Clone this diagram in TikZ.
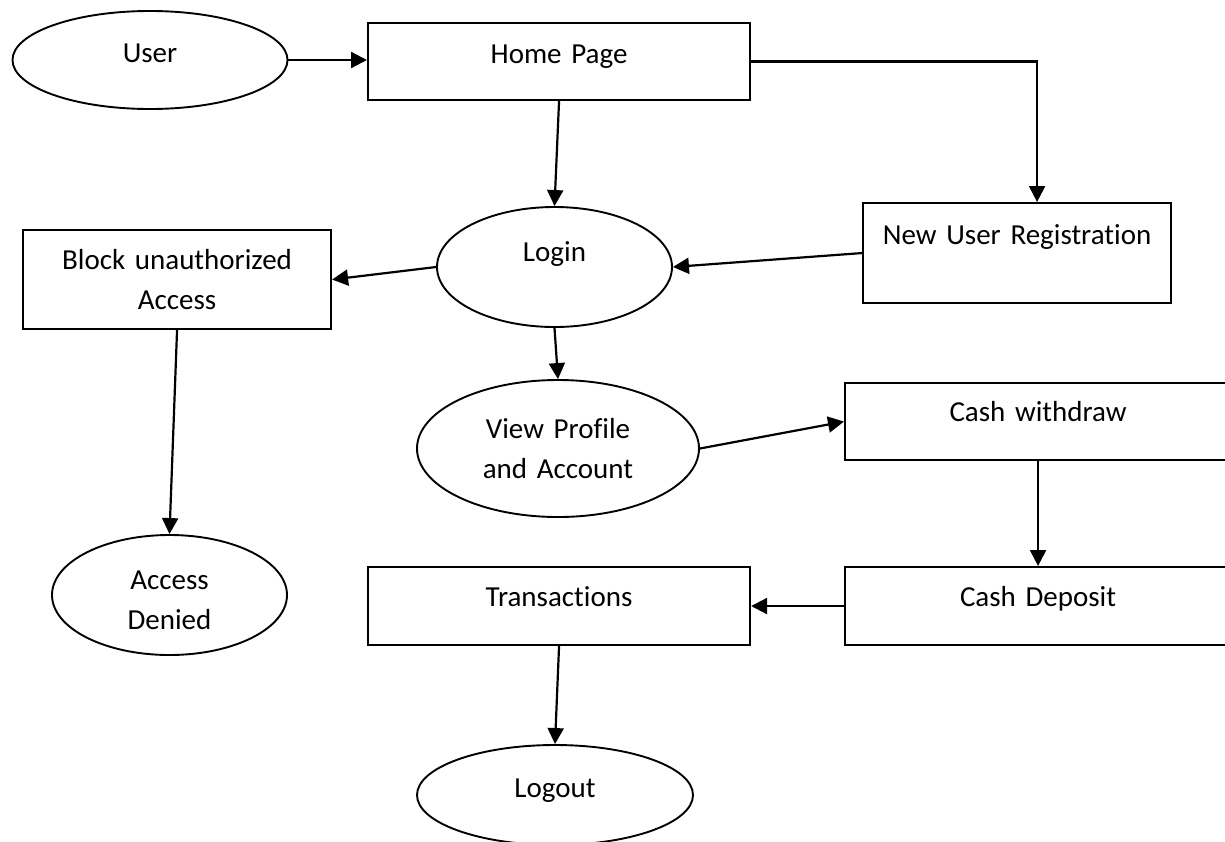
\documentclass[tikz,border=0pt]{standalone}
\usepackage{fontspec}
\setmainfont[Ligatures=NoCommon]{Carlito}
\usetikzlibrary{arrows.meta,shapes.geometric}

\begin{document}
% tighter interword space for the 29pt labels
\spaceskip=6.7pt\relax
\begin{tikzpicture}[x=1pt,y=-1pt,
  font=\fontsize{29}{40}\selectfont,
  box/.style={draw,line width=2.1pt,rectangle,inner sep=0pt,anchor=north west,align=center},
  oval/.style={draw,line width=1.9pt,ellipse,inner sep=0pt,align=center,text width=150pt},
  flow/.style={line width=2.2pt,-{Triangle[length=16pt,width=16pt]}}
]
\path[use as bounding box,fill=white] (0,0) rectangle (1225,841);

% process boxes (text sits near the top edge)
\node[box,text width=382pt,text height=40pt,text depth=37pt] (home)  at (367,22)  {Home Page};
\node[box,text width=308pt,text height=41pt,text depth=59pt] (nur)   at (862,202) {New User Registration};
\node[box,text width=308pt,text height=39pt,text depth=60pt] (block) at (22,229)  {Block unauthorized\\Access};
\node[box,text width=386pt,text height=38pt,text depth=39pt] (cw)    at (844,382) {Cash withdraw};
\node[box,text width=386pt,text height=39pt,text depth=39pt] (cd)    at (844,566) {Cash Deposit};
\node[box,text width=382pt,text height=39pt,text depth=39pt] (trans) at (367,566) {Transactions};

% terminals and states
\node[oval,minimum width=275pt,minimum height=98pt,text height=20pt,text depth=16pt]  (user)   at (150,60)    {User};
\node[oval,minimum width=235pt,minimum height=120pt,text height=12pt,text depth=24pt] (login)  at (554.5,267) {Login};
\node[oval,text width=170pt,minimum width=282pt,minimum height=137pt,text height=10pt,text depth=31pt] (view) at (558,448.5) {View Profile\\and Account};
\node[oval,minimum width=235pt,minimum height=120pt,text height=10pt,text depth=22pt] (denied) at (169.5,595) {Access\\Denied};
\node[oval,minimum width=276pt,minimum height=100pt,text height=20pt,text depth=16pt] (logout) at (555,795)   {Logout};

% connectors
\coordinate (turn) at ([xshift=20pt]nur.north);
\draw[flow] (user.east) -- (user.east -| home.west);
\draw[flow] (home.south) -- (login.north);
\draw[flow] (home.east) -| (turn);
\draw[flow] (nur.west) -- (login.east);
\draw[flow] (login.west) -- (block.east);
\draw[flow] (block.south) -- (denied.north);
\draw[flow] (login.south) -- (view.north);
\draw[flow] (view.east) -- (cw.west);
\draw[flow] (cw.south) -- (cd.north);
\draw[flow] (cd.west) -- (trans.east);
\draw[flow] (trans.south) -- (logout.north);
\end{tikzpicture}
\end{document}
